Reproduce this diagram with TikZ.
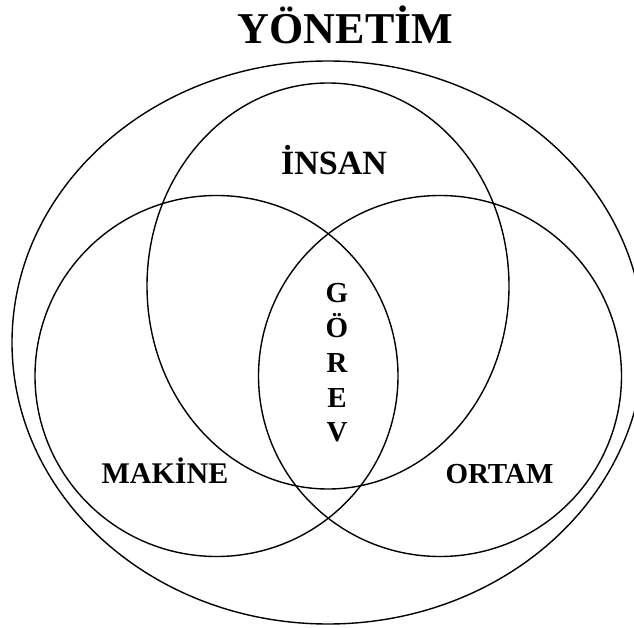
\documentclass[tikz,border=0pt]{standalone}
\usepackage{fontspec}
\setmainfont{Liberation Serif}
\tikzset{
  venn/.style={draw=black, line width=1.4pt},
  lbl/.style={anchor=base, inner sep=0pt, font=\bfseries}
}
\begin{document}
\begin{tikzpicture}[x=1pt,y=-1pt]
\useasboundingbox (0,0) rectangle (634,628);
\clip (0,0) rectangle (634,628);
\fill[white] (0,0) rectangle (634,628);
% outer ellipse
\draw[venn] (328,342.5) ellipse [x radius=316, y radius=281.5];
% top (insan)
\draw[venn] (328,286) ellipse [x radius=181, y radius=203];
% left (makine)
\draw[venn] (216.5,376) ellipse [x radius=181.5, y radius=180.5];
% right (ortam)
\draw[venn] (440,376) ellipse [x radius=181.5, y radius=180.5];
% labels
\node[lbl, font=\bfseries\fontsize{44}{44}\selectfont] (yon) at (345.5,44) {YÖNETİM};
\node[lbl, font=\bfseries\fontsize{34}{34}\selectfont] (ins) at (334,175) {İNSAN};
\node[lbl, font=\bfseries\fontsize{30}{30}\selectfont] (mak) at (165,483) {MAKİNE};
\node[lbl, font=\bfseries\fontsize{29}{29}\selectfont] (ort) at (499.5,483) {ORTAM};
\node[lbl, font=\bfseries\fontsize{29}{29}\selectfont] (g1) at (337,302) {G};
\node[lbl, font=\bfseries\fontsize{29}{29}\selectfont] (g2) at (337,337) {Ö};
\node[lbl, font=\bfseries\fontsize{29}{29}\selectfont] (g3) at (337,372) {R};
\node[lbl, font=\bfseries\fontsize{29}{29}\selectfont] (g4) at (337,407) {E};
\node[lbl, font=\bfseries\fontsize{29}{29}\selectfont] (g5) at (337,441) {V};
\end{tikzpicture}
\end{document}
